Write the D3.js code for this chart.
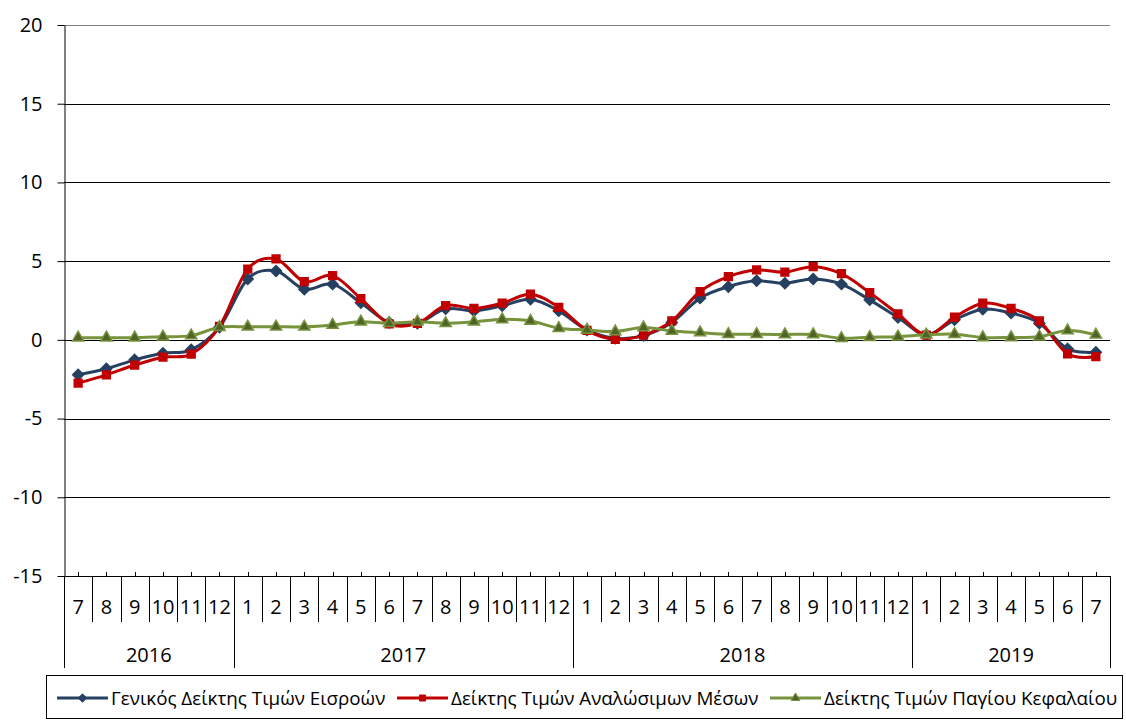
<!DOCTYPE html>
<html>
<head>
<meta charset="utf-8">
<script src="https://cdn.jsdelivr.net/npm/d3@7"></script>
<style>
  html, body { margin: 0; padding: 0; background: #fff; }
  svg { display: block; font-family: 'Open Sans', sans-serif; }
</style>
</head>
<body>
<svg id="chart" width="1126" height="724"></svg>
<script>
const months = [7, 8, 9, 10, 11, 12,
  1, 2, 3, 4, 5, 6, 7, 8, 9, 10, 11, 12,
  1, 2, 3, 4, 5, 6, 7, 8, 9, 10, 11, 12,
  1, 2, 3, 4, 5, 6, 7]
const years = [
  { year: '2016', count: 6 },
  { year: '2017', count: 12 },
  { year: '2018', count: 12 },
  { year: '2019', count: 7 },
]
const yTicks = [-15, -10, -5, 0, 5, 10, 15, 20]

const general = [-2.22, -1.84, -1.27, -0.85, -0.63, 0.8,
  3.87, 4.38, 3.22, 3.54, 2.35, 1.1, 1.05, 1.97, 1.84, 2.16, 2.58, 1.84,
  0.63, 0.1, 0.27, 1.1, 2.65, 3.38, 3.75, 3.6, 3.87, 3.54, 2.54, 1.42,
  0.32, 1.27, 1.95, 1.7, 1.06, -0.57, -0.78]
const consumables = [-2.75, -2.22, -1.6, -1.1, -0.91, 0.85,
  4.5, 5.14, 3.7, 4.08, 2.62, 1.02, 1.05, 2.18, 2.0, 2.33, 2.9, 2.07,
  0.6, 0.03, 0.3, 1.2, 3.07, 4.02, 4.44, 4.3, 4.65, 4.2, 3.0, 1.65,
  0.3, 1.44, 2.33, 2.0, 1.2, -0.89, -1.06]
const capital = [0.14, 0.14, 0.14, 0.19, 0.27, 0.8,
  0.83, 0.83, 0.83, 0.95, 1.15, 1.05, 1.15, 1.05, 1.15, 1.3, 1.2, 0.74,
  0.63, 0.53, 0.78, 0.57, 0.46, 0.36, 0.36, 0.34, 0.34, 0.1, 0.17, 0.2,
  0.32, 0.36, 0.15, 0.15, 0.2, 0.59, 0.32]

const series = [
  { name: 'Γενικός Δείκτης Τιμών Εισροών', values: general, color: '#254061', symbol: d3.symbolDiamond2, size: 75, fill: '#254061', legendX: 57 },
  { name: 'Δείκτης Τιμών Αναλώσιμων Μέσων', values: consumables, color: '#C00000', symbol: d3.symbolSquare, size: 60, fill: '#C00000', legendX: 397 },
  { name: 'Δείκτης Τιμών Παγίου Κεφαλαίου', values: capital, color: '#77933C', symbol: d3.symbolTriangle, size: 55, fill: '#4F6228', legendX: 770 },
]

const marginLeft = 64
const plotRight = 1110
const plotTop = 25
const plotBottom = 576
const fontSize = 20

const svg = d3.select('#chart')

const x = d3.scaleBand()
  .domain(d3.range(months.length))
  .range([marginLeft, plotRight])
const cx = (i) => x(i) + x.bandwidth() / 2

const y = d3.scaleLinear().domain([-15, 20]).range([plotBottom, plotTop])

// gridlines
svg.append('g')
  .selectAll('line')
  .data(yTicks)
  .join('line')
  .attr('x1', marginLeft)
  .attr('x2', plotRight)
  .attr('y1', (d) => Math.round(y(d)) + 0.5)
  .attr('y2', (d) => Math.round(y(d)) + 0.5)
  .attr('stroke', (d) => (d === 20 ? '#808080' : '#000'))
  .attr('stroke-width', 1)

// y axis
const yAxis = svg.append('g')
  .attr('transform', `translate(${marginLeft + 0.5},0)`)
  .call(d3.axisLeft(y)
    .tickValues(yTicks)
    .tickFormat((d) => String(d))
    .tickSize(7)
    .tickPadding(15)
    .tickSizeOuter(0))
yAxis.select('.domain').attr('stroke', '#000')
yAxis.selectAll('.tick line').attr('stroke', '#000')
yAxis.selectAll('.tick text')
  .attr('font-size', fontSize)
  .attr('fill', '#000')
  .attr('font-family', "'Open Sans', sans-serif")

// x axis: small ticks at category centres, separators between months
const xAxis = svg.append('g')
xAxis.selectAll('line.tick')
  .data(months)
  .join('line')
  .attr('x1', (d, i) => Math.round(cx(i)) + 0.5)
  .attr('x2', (d, i) => Math.round(cx(i)) + 0.5)
  .attr('y1', plotBottom - 4)
  .attr('y2', plotBottom)
  .attr('stroke', '#000')

const edge = (i) => (i < months.length ? x(i) : plotRight)

xAxis.selectAll('line.sep')
  .data(d3.range(months.length + 1))
  .join('line')
  .attr('x1', (i) => Math.round(edge(i)) + 0.5)
  .attr('x2', (i) => Math.round(edge(i)) + 0.5)
  .attr('y1', plotBottom)
  .attr('y2', 622)
  .attr('stroke', '#000')

xAxis.selectAll('text.month')
  .data(months)
  .join('text')
  .attr('x', (d, i) => cx(i))
  .attr('y', 614)
  .attr('text-anchor', 'middle')
  .attr('font-size', fontSize)
  .text((d) => d)

let start = 0
const yearBounds = years.map((yr) => {
  const b = { ...yr, start, end: start + yr.count }
  start += yr.count
  return b
})

xAxis.selectAll('line.year')
  .data([0, ...yearBounds.map((b) => b.end)])
  .join('line')
  .attr('x1', (i) => Math.round(edge(i)) + 0.5)
  .attr('x2', (i) => Math.round(edge(i)) + 0.5)
  .attr('y1', 622)
  .attr('y2', 668)
  .attr('stroke', '#000')

xAxis.selectAll('text.year')
  .data(yearBounds)
  .join('text')
  .attr('x', (b) => (edge(b.start) + edge(b.end)) / 2)
  .attr('y', 662)
  .attr('text-anchor', 'middle')
  .attr('font-size', fontSize)
  .text((b) => b.year)

xAxis.append('line')
  .attr('x1', marginLeft)
  .attr('x2', plotRight)
  .attr('y1', Math.round(plotBottom) + 0.5)
  .attr('y2', Math.round(plotBottom) + 0.5)
  .attr('stroke', '#000')

// lines
const line = d3.line()
  .x((d, i) => cx(i))
  .y((d) => y(d))
  .curve(d3.curveCardinal.tension(0))

const marker = (s) => d3.symbol().type(s.symbol).size(s.size)

for (const s of series) {
  svg.append('path')
    .datum(s.values)
    .attr('fill', 'none')
    .attr('stroke', s.color)
    .attr('stroke-width', 3)
    .attr('d', line)

  svg.append('g')
    .selectAll('path')
    .data(s.values)
    .join('path')
    .attr('transform', (d, i) => `translate(${cx(i)},${y(d)})`)
    .attr('d', marker(s))
    .attr('fill', s.fill)
    .attr('stroke', s.color)
    .attr('stroke-width', 1.5)
}

// legend
svg.append('rect')
  .attr('x', 46.5)
  .attr('y', 675.5)
  .attr('width', 1076)
  .attr('height', 43)
  .attr('fill', 'none')
  .attr('stroke', '#000')

const legend = svg.append('g')
  .selectAll('g')
  .data(series)
  .join('g')
  .attr('transform', (s) => `translate(${s.legendX},698)`)

legend.append('line')
  .attr('x1', 0)
  .attr('x2', 51)
  .attr('stroke', (s) => s.color)
  .attr('stroke-width', 3)
legend.append('path')
  .attr('transform', 'translate(25.5,0)')
  .attr('d', (s) => d3.symbol().type(s.symbol).size(s.size * 0.6)())
  .attr('fill', (s) => s.fill)
  .attr('stroke', (s) => s.color)
legend.append('text')
  .attr('x', 54)
  .attr('y', 6.5)
  .attr('font-size', 18.8)
  .text((s) => s.name)
</script>
</body>
</html>
